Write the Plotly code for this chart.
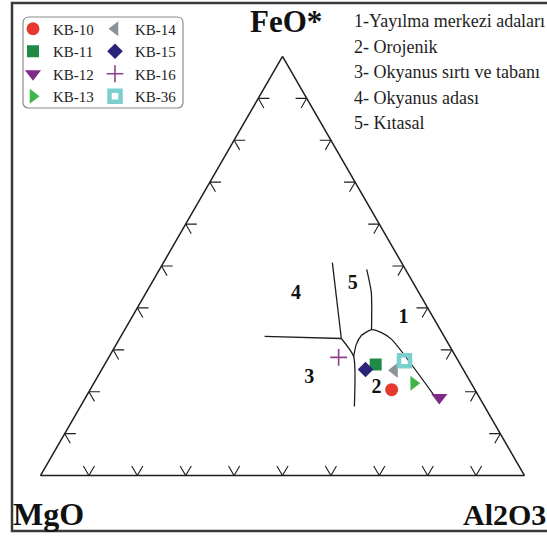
import plotly.graph_objects as go

FIG_W, FIG_H = 547, 543

# Sample compositions (wt% normalised): FeO*, MgO, Al2O3
samples = ["KB-10", "KB-11", "KB-12", "KB-13", "KB-14", "KB-15", "KB-16", "KB-36"]
feo = [20.5, 26.5, 18.6, 22.0, 25.1, 25.3, 28.2, 27.4]
mgo = [17.2, 17.5, 8.3, 11.9, 14.3, 20.2, 24.3, 11.1]
al2o3 = [62.3, 56.0, 73.1, 66.1, 60.6, 54.5, 47.5, 61.5]

marker_symbols = ["circle", "square", "triangle-down", "triangle-right",
                  "triangle-left", "diamond", "cross-thin", "square-open"]
marker_colors = ["#e5392f", "#1f8a44", "#7d2a88", "#40b54b",
                 "#8b9396", "#2a2378", "#8e3f8e", "#7ccfcf"]
marker_sizes = [13, 12, 14, 13, 13, 12, 12, 11]

# Tectonic field boundaries (FeO*, MgO, Al2O3)
boundary_4_3 = [(33.2, 37.1, 29.7), (32.7, 21.5, 45.8)]
boundary_4_5 = [(32.7, 21.5, 45.8), (50.8, 14.3, 34.9)]
boundary_3_2 = [(32.7, 21.5, 45.8), (28.4, 21.1, 50.5), (16.5, 26.9, 56.6)]
boundary_2 = [(28.4, 21.1, 50.5), (31.3, 19.1, 49.6), (33.4, 17.0, 49.6),
              (34.8, 14.2, 51.0), (34.1, 12.5, 53.4), (32.5, 11.2, 56.3),
              (19.1, 9.1, 71.8)]
boundary_5_1 = [(34.8, 14.2, 51.0), (43.7, 9.8, 46.5), (49.2, 8.0, 42.8)]

# Field numbers and their positions (FeO*, MgO, Al2O3)
field_labels = ["4", "5", "1", "3", "2"]
field_feo = [43.2, 45.6, 37.6, 23.3, 20.8]
field_mgo = [25.6, 12.7, 6.2, 32.8, 20.2]
field_al = [31.2, 41.7, 56.2, 43.9, 59.0]

# Key to the fields
field_names = ["1-Yayılma merkezi adaları", "2- Orojenik",
               "3- Okyanus sırtı ve tabanı", "4- Okyanus adası", "5- Kıtasal"]

tick_steps = [10, 20, 30, 40, 50, 60, 70, 80, 90]
ARM = 2.3

SERIF = "Times New Roman, Liberation Serif, serif"
INK = "#1e1e1e"


def px(x):
    return x / FIG_W


def py(y):
    return 1 - y / FIG_H


fig = go.Figure()

# Chevron ticks: two short strokes parallel to the other two sides
ta, tb, tc = [], [], []


def chevron(p, q, r):
    for pt in (p, q, r):
        ta.append(pt[0])
        tb.append(pt[1])
        tc.append(pt[2])
    ta.append(None)
    tb.append(None)
    tc.append(None)


for t in tick_steps:
    chevron((ARM, 100 - t - ARM, t), (0, 100 - t, t), (ARM, 100 - t, t - ARM))
    chevron((t, 100 - t - ARM, ARM), (t, 100 - t, 0), (t - ARM, 100 - t, ARM))
    chevron((t, ARM, 100 - t - ARM), (t, 0, 100 - t), (t - ARM, ARM, 100 - t))

fig.add_trace(go.Scatterternary(
    a=ta, b=tb, c=tc, mode="lines",
    line=dict(color=INK, width=1.1),
    showlegend=False, hoverinfo="skip"))

for bnd in (boundary_4_3, boundary_4_5, boundary_3_2, boundary_2, boundary_5_1):
    fig.add_trace(go.Scatterternary(
        a=[p[0] for p in bnd], b=[p[1] for p in bnd], c=[p[2] for p in bnd],
        mode="lines", line=dict(color=INK, width=1.3, shape="spline", smoothing=0.6),
        showlegend=False, hoverinfo="skip"))

fig.add_trace(go.Scatterternary(
    a=field_feo, b=field_mgo, c=field_al, mode="text", text=field_labels,
    textfont=dict(family=SERIF, size=20, color="#111", weight="bold"),
    showlegend=False, hoverinfo="skip"))

for i, name in enumerate(samples):
    sym = marker_symbols[i]
    line = dict(width=0)
    if sym == "cross-thin":
        line = dict(width=1.6, color=marker_colors[i])
    elif sym == "square-open":
        line = dict(width=4.5, color=marker_colors[i])
    fig.add_trace(go.Scatterternary(
        a=[feo[i]], b=[mgo[i]], c=[al2o3[i]], mode="markers", name=name,
        marker=dict(symbol=sym, size=marker_sizes[i], color=marker_colors[i], line=line),
        legend="legend" if i < 4 else "legend2"))

axis_style = dict(showgrid=False, showticklabels=False, ticks="", linecolor=INK,
                  linewidth=1.5, min=0, title=dict(text=""))

legend_style = dict(
    xanchor="left", yanchor="top", bgcolor="rgba(0,0,0,0)", borderwidth=0,
    font=dict(family=SERIF, size=15, color=INK), tracegroupgap=0,
    itemclick=False, itemdoubleclick=False)

# Rounded outline around both legend columns
bx0, bx1, by0, by1 = px(23), px(183), py(108), py(17)
rx, ry = 6 / FIG_W, 6 / FIG_H
box_path = (f"M {bx0 + rx},{by1} L {bx1 - rx},{by1} Q {bx1},{by1} {bx1},{by1 - ry} "
            f"L {bx1},{by0 + ry} Q {bx1},{by0} {bx1 - rx},{by0} "
            f"L {bx0 + rx},{by0} Q {bx0},{by0} {bx0},{by0 + ry} "
            f"L {bx0},{by1 - ry} Q {bx0},{by1} {bx0 + rx},{by1} Z")

annotations = [
    dict(text="FeO*", x=px(286), y=py(21), xanchor="center", yanchor="middle",
         font=dict(family=SERIF, size=31, color="#111", weight="bold")),
    dict(text="MgO", x=px(11), y=py(514), xanchor="left", yanchor="middle",
         font=dict(family=SERIF, size=32, color="#111", weight="bold")),
    dict(text="Al2O3", x=px(548), y=py(514), xanchor="right", yanchor="middle",
         font=dict(family=SERIF, size=30, color="#111", weight="bold")),
]
for k, txt in enumerate(field_names):
    annotations.append(dict(
        text=txt, x=px(352), y=py(21 + 25.5 * k), xanchor="left", yanchor="middle",
        font=dict(family=SERIF, size=18, color=INK)))
for a in annotations:
    a.update(xref="paper", yref="paper", showarrow=False)

fig.update_layout(
    width=FIG_W, height=FIG_H,
    margin=dict(l=0, r=0, t=0, b=0),
    paper_bgcolor="white", plot_bgcolor="white",
    ternary=dict(
        sum=100, bgcolor="white",
        domain=dict(x=[px(40.5), px(524.5)], y=[py(476), py(56)]),
        aaxis=axis_style, baxis=axis_style, caxis=axis_style),
    legend=dict(x=px(13), y=py(12.5), **legend_style),
    legend2=dict(x=px(95), y=py(12.5), **legend_style),
    annotations=annotations,
    shapes=[
        dict(type="rect", xref="paper", yref="paper", x0=px(12), x1=px(600),
             y0=py(531), y1=py(3), line=dict(color="#3a3a3a", width=2.5)),
        dict(type="path", xref="paper", yref="paper", path=box_path,
             line=dict(color="#8a8a8a", width=1.2)),
    ],
)

fig.write_html("out.html")
